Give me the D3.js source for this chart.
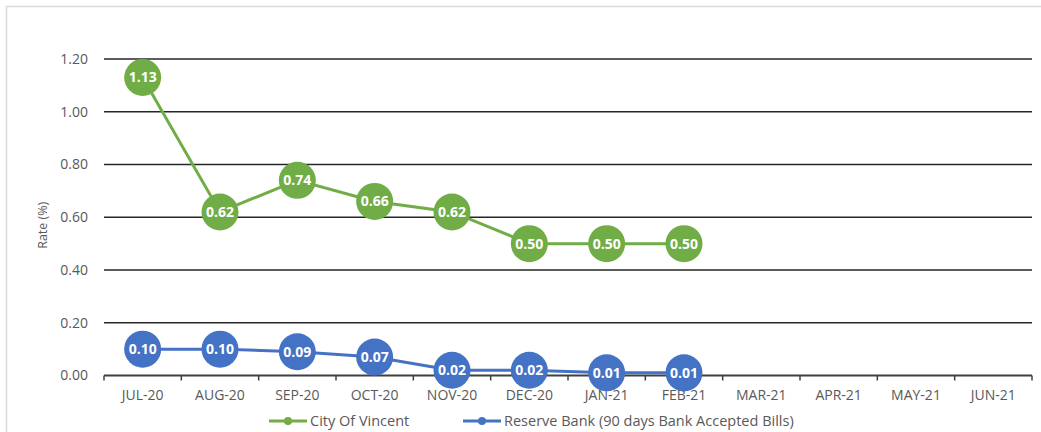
<!DOCTYPE html>
<html>
<head>
<meta charset="utf-8">
<script src="https://cdn.jsdelivr.net/npm/d3@7"></script>
<style>
  body { margin: 0; background: #fff; }
  text { font-family: "Open Sans", "Liberation Sans", Arial, sans-serif; }
</style>
</head>
<body>
<div id="chart"></div>
<script>
const months = ['JUL-20', 'AUG-20', 'SEP-20', 'OCT-20', 'NOV-20', 'DEC-20',
  'JAN-21', 'FEB-21', 'MAR-21', 'APR-21', 'MAY-21', 'JUN-21'];
const vincent = [1.13, 0.62, 0.74, 0.66, 0.62, 0.50, 0.50, 0.50];
const reserve = [0.10, 0.10, 0.09, 0.07, 0.02, 0.02, 0.01, 0.01];
const yTicks = [0, 0.2, 0.4, 0.6, 0.8, 1.0, 1.2];

const series = [
  { name: 'City Of Vincent', values: vincent, color: '#70AD47' },
  { name: 'Reserve Bank (90 days Bank Accepted Bills)', values: reserve, color: '#4472C4' }
];

const width = 1041, height = 432;
const margin = { top: 59, right: 9, bottom: 56, left: 104 };

const svg = d3.select('#chart').append('svg')
  .attr('width', width)
  .attr('height', height);

// chart border
svg.append('rect')
  .attr('x', 6.5).attr('y', 6.5)
  .attr('width', width + 10).attr('height', height + 10)
  .attr('fill', 'none')
  .attr('stroke', '#d9d9d9')
  .attr('stroke-width', 1.5);

const x = d3.scaleBand()
  .domain(months)
  .range([margin.left, width - margin.right]);

const y = d3.scaleLinear()
  .domain([0, 1.2])
  .range([height - margin.bottom - 0.5, margin.top]);

// gridlines
svg.append('g')
  .selectAll('line')
  .data(yTicks.filter(d => d > 0))
  .join('line')
  .attr('x1', margin.left)
  .attr('x2', width - margin.right)
  .attr('y1', d => y(d))
  .attr('y2', d => y(d))
  .attr('stroke', '#262626')
  .attr('stroke-width', 1.5);

// y axis labels
svg.append('g')
  .selectAll('text')
  .data(yTicks)
  .join('text')
  .attr('x', 88)
  .attr('y', d => y(d))
  .attr('dy', '0.35em')
  .attr('text-anchor', 'end')
  .attr('fill', '#595959')
  .style('font-size', '14px')
  .text(d => d3.format('.2f')(d));

svg.append('text')
  .attr('transform', `translate(47,${(y(0) + y(1.2)) / 2 + 8}) rotate(-90)`)
  .attr('text-anchor', 'middle')
  .attr('fill', '#595959')
  .style('font-size', '12.5px')
  .text('Rate (%)');

// x axis
const xAxis = svg.append('g')
  .attr('transform', `translate(0,${y(0)})`);

xAxis.append('line')
  .attr('x1', margin.left)
  .attr('x2', width - margin.right)
  .attr('stroke', '#404040')
  .attr('stroke-width', 2);

const bounds = months.map(m => x(m)).concat([width - margin.right]);
xAxis.selectAll('.tick')
  .data(bounds)
  .join('line')
  .attr('class', 'tick')
  .attr('x1', d => d).attr('x2', d => d)
  .attr('y1', 0).attr('y2', 5)
  .attr('stroke', '#404040')
  .attr('stroke-width', 1.5);

xAxis.selectAll('text')
  .data(months)
  .join('text')
  .attr('x', d => x(d) + x.bandwidth() / 2)
  .attr('y', 24)
  .attr('text-anchor', 'middle')
  .attr('fill', '#595959')
  .style('font-size', '14px')
  .text(d => d);

// series
const line = d3.line()
  .x((d, i) => x(months[i]) + x.bandwidth() / 2)
  .y(d => y(d));

series.forEach(s => {
  const g = svg.append('g');
  g.append('path')
    .datum(s.values)
    .attr('d', line)
    .attr('fill', 'none')
    .attr('stroke', s.color)
    .attr('stroke-width', 3);

  const pts = g.selectAll('g.pt')
    .data(s.values)
    .join('g')
    .attr('class', 'pt')
    .attr('transform', (d, i) => `translate(${x(months[i]) + x.bandwidth() / 2},${y(d)})`);

  pts.append('circle')
    .attr('r', 18.5)
    .attr('fill', s.color);

  pts.append('text')
    .attr('text-anchor', 'middle')
    .attr('dy', '0.35em')
    .attr('fill', '#fff')
    .style('font-size', '14px')
    .style('font-weight', 'bold')
    .text(d => d3.format('.2f')(d));
});

// legend
const legendX = [269, 463];
series.forEach((s, i) => {
  const lg = svg.append('g')
    .attr('transform', `translate(${legendX[i]},421)`);
  lg.append('line')
    .attr('x1', 0).attr('x2', 38)
    .attr('stroke', s.color)
    .attr('stroke-width', 3);
  lg.append('circle')
    .attr('cx', 19).attr('r', 4)
    .attr('fill', s.color);
  lg.append('text')
    .attr('x', 41)
    .attr('dy', '0.35em')
    .attr('fill', '#595959')
    .style('font-size', '14.5px')
    .text(s.name);
});
</script>
</body>
</html>
